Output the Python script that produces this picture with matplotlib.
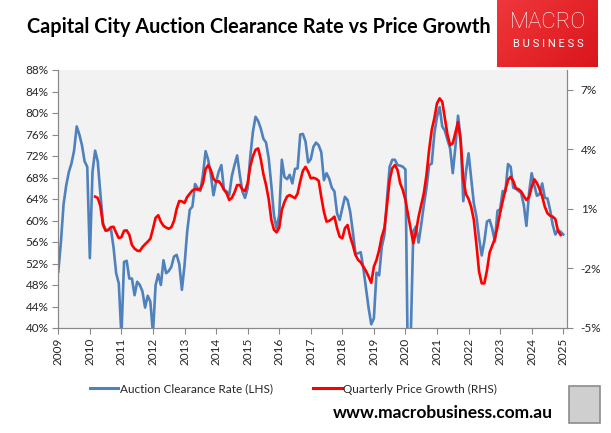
import numpy as np
import matplotlib
matplotlib.use('Agg')
import matplotlib.pyplot as plt
from matplotlib.colors import LinearSegmentedColormap
from matplotlib.lines import Line2D
from matplotlib.patches import Rectangle

plt.rcParams['font.family'] = ['Lato', 'DejaVu Sans']

# 拍卖清盘率（月度，2009年1月 - 2025年1月，%）
clearance = [
    50.5, 56.0, 63.0, 66.5, 69.0, 70.6, 73.0, 77.5, 76.0, 74.0, 71.0, 70.0,
    53.0, 69.0, 73.0, 71.0, 65.0, 59.5, 58.2, 58.2, 58.5, 55.0, 50.2, 48.3,
    38.5, 52.3, 52.5, 49.2, 49.2, 46.1, 48.6, 48.0, 46.8, 43.8, 46.0, 44.9,
    39.0, 48.0, 50.0, 48.0, 52.6, 50.2, 50.6, 51.4, 53.3, 53.6, 51.9, 47.1,
    51.7, 57.9, 62.0, 62.6, 66.8, 66.0, 65.5, 68.5, 72.9, 71.3, 68.5, 64.7,
    67.2, 69.1, 70.3, 65.7, 65.4, 64.7, 68.3, 70.3, 72.1, 68.5, 65.4, 64.2,
    66.0, 71.9, 76.5, 79.3, 78.5, 77.1, 75.2, 74.5, 71.6, 66.6, 61.0, 58.5,
    61.0, 71.3, 68.1, 67.7, 68.5, 66.9, 69.6, 69.7, 76.0, 76.1, 74.7, 70.8,
    71.4, 73.7, 74.5, 74.0, 72.7, 67.5, 68.8, 67.8, 66.1, 65.4, 61.3, 60.1,
    62.3, 64.4, 63.8, 61.6, 57.9, 53.8, 53.9, 54.1, 51.1, 47.4, 43.7, 40.7,
    41.8, 50.3, 49.8, 55.1, 57.3, 64.1, 70.0, 71.3, 71.3, 70.3, 70.2, 70.0,
    69.5, 30.0, 38.0, 58.0, 58.9, 55.9, 59.2, 62.9, 66.0, 70.3, 70.6, 76.2,
    79.3, 81.1, 77.5, 76.7, 75.0, 73.4, 68.8, 73.7, 79.5, 75.3, 63.6, 69.0,
    72.5, 67.8, 63.2, 60.7, 56.7, 53.5, 56.1, 59.8, 60.1, 58.5, 56.1, 61.8,
    62.1, 65.5, 65.4, 70.5, 70.0, 66.1, 65.9, 65.5, 65.1, 62.9, 59.0, 65.1,
    68.8, 66.6, 64.6, 64.9, 66.9, 64.2, 64.1, 62.0, 59.2, 57.4, 58.2, 57.9,
    57.4,
]

# 季度房价涨幅（按月滚动，2010年3月 - 2024年12月，%）
price_growth = [
    1.62, 1.55, 1.15, 0.20, -0.10, -0.05, 0.08, 0.10, -0.20, -0.47,
    -0.42, -0.10, -0.08, -0.30, -0.82, -1.00, -1.10, -1.12, -0.92, -0.78, -0.65, -0.50,
    0.00, 0.55, 0.68, 0.35, 0.15, 0.06, 0.00, 0.08, 0.40, 1.00, 1.40, 1.38,
    1.30, 1.60, 1.77, 1.93, 2.00, 1.97, 2.00, 2.29, 3.00, 3.21, 2.96, 2.52,
    2.37, 2.40, 2.22, 1.97, 1.79, 1.45, 1.56, 1.83, 2.20, 2.20, 1.98, 1.90,
    2.29, 3.15, 3.65, 3.98, 4.05, 3.50, 2.75, 2.20, 1.50, 0.45, -0.05, -0.18,
    0.05, 0.95, 1.35, 1.63, 1.70, 1.62, 1.54, 1.78, 2.40, 2.92, 3.12, 2.88,
    2.54, 2.57, 2.52, 2.42, 1.60, 0.86, 0.36, 0.40, 0.49, 0.61, 0.03, -0.40,
    -0.48, 0.03, 0.19, -0.40, -0.82, -1.32, -1.57, -1.69, -1.91, -2.13, -2.41, -2.72,
    -1.91, -1.57, -1.07, -0.40, 0.03, 1.20, 2.46, 3.05, 3.21, 2.96, 2.29, 1.95,
    1.45, 0.70, 0.00, -0.73, -0.15, 0.61, 1.20, 1.79, 2.71, 3.97, 4.98, 5.57,
    6.32, 6.57, 6.40, 5.57, 4.73, 4.22, 4.31, 4.85, 5.37, 4.40, 2.50, 1.75,
    1.50, 1.10, 0.45, -0.80, -2.16, -2.75, -2.75, -2.10, -1.20, -0.85, -0.50, 0.10,
    0.80, 1.40, 1.95, 2.45, 2.62, 2.40, 2.04, 1.99, 1.88, 1.65, 1.45, 1.60,
    2.10, 2.49, 2.30, 2.00, 1.62, 1.11, 0.78, 0.66, 0.61, 0.49, -0.10, -0.31,
]

years = list(range(2009, 2026))
left_ticks = list(range(40, 89, 4))
right_ticks = [-5, -2, 1, 4, 7]

clr_x = 2009 + np.arange(len(clearance)) / 12
pg_x = 2009 + (14 + np.arange(len(price_growth))) / 12

W, H = 611, 433
fig = plt.figure(figsize=(W / 100, H / 100), dpi=100)
ax = fig.add_axes([58.3 / W, 1 - 328 / H, (566.7 - 58.3) / W, (328 - 70) / H])
ax.set_facecolor('#F2F2F2')
ax2 = ax.twinx()

blue = '#4F81BD'
red = '#FF0000'
grey = '#898989'
txt = '#262626'

ax.plot(clr_x, clearance, color=blue, lw=1.9, solid_joinstyle='round')
ax2.plot(pg_x, price_growth, color=red, lw=1.9, solid_joinstyle='round')

ax.set_xlim(2009, 2025.11)
ax.set_ylim(40, 88)
ax2.set_ylim(-5, 8)

ax.set_xticks(years)
ax.set_xticklabels([str(y) for y in years], rotation=90)
ax.set_yticks(left_ticks)
ax.set_yticklabels(['%d%%' % v for v in left_ticks])
ax2.set_yticks(right_ticks)
ax2.set_yticklabels(['%d%%' % v for v in right_ticks])

for a in (ax, ax2):
    for s in a.spines.values():
        s.set_color(grey)
        s.set_linewidth(0.8)
    a.spines['top'].set_visible(False)
ax.tick_params(axis='both', colors=grey, labelcolor=txt, labelsize=8.5,
               length=4, width=0.8, direction='out', pad=3)
ax2.tick_params(axis='y', colors=grey, labelcolor=txt, labelsize=8.5,
                length=4, width=0.8, direction='out', pad=6)

# 图例
handles = [Line2D([], [], color=blue, lw=2.2), Line2D([], [], color=red, lw=2.2)]
fig.legend(handles, ['Auction Clearance Rate (LHS)', 'Quarterly Price Growth (RHS)'],
           loc='center left', bbox_to_anchor=(90 / W, 1 - 389 / H), ncol=2,
           frameon=False, fontsize=8.5, borderpad=0, borderaxespad=0,
           handlelength=2.4, handletextpad=0.15, columnspacing=3.4,
           labelcolor=txt)

# 标题
fig.text(259 / W, 1 - 27 / H, 'Capital City Auction Clearance Rate vs Price Growth',
         ha='center', va='center', fontsize=14.3, fontweight='bold', color='black')

# 网址
fig.text(553 / W, 1 - 413 / H, 'www.macrobusiness.com.au', ha='right', va='center',
         fontsize=12.5, fontweight='bold', color='black')

# MACRO BUSINESS 标志
logo = fig.add_axes([497 / W, 1 - 67 / H, 101 / W, 67 / H])
grad = np.linspace(0, 1, 100)[None, :] * 0.6 + np.linspace(0, 1, 60)[:, None] * 0.4
logo.imshow(grad, cmap=LinearSegmentedColormap.from_list('r', ['#F0373B', '#D9161C']),
            aspect='auto', extent=[0, 1, 0, 1], origin='upper')
logo.axis('off')
logo.text(0.505, 0.66, 'MACRO', ha='center', va='center', color='white',
          fontsize=16, family=['Roboto', 'DejaVu Sans'], fontweight='light')
logo.text(0.505, 0.345, 'B U S I N E S S', ha='center', va='center', color='white',
          fontsize=8, family=['Roboto', 'DejaVu Sans'])

# 狼头图标占位
fig.patches.append(Rectangle((569 / W, 1 - 423 / H), 31 / W, 37 / H,
                             transform=fig.transFigure, facecolor='#CFCFCF',
                             edgecolor='#8C8C8C', lw=1.2))

fig.savefig('out.png', dpi=100)
